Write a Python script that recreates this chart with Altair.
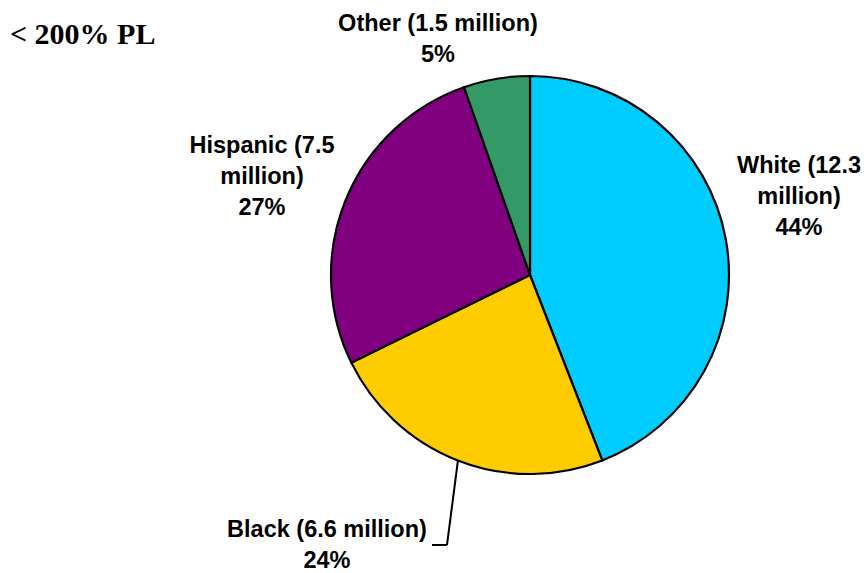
import altair as alt
import pandas as pd

# ---- data ----
groups = ["White", "Black", "Hispanic", "Other"]
millions = [12.3, 6.6, 7.5, 1.5]
colors = ["#00CCFF", "#FFCC00", "#800080", "#339966"]
title_text = "< 200% PL"

total = sum(millions)
pcts = [round(v / total * 100) for v in millions]

df = pd.DataFrame({"group": groups, "millions": millions, "idx": list(range(len(groups)))})

W, H = 866, 573
CX, CY, R = 530, 275, 199

pie = alt.Chart(df).mark_arc(radius=R, stroke="black", strokeWidth=2.2).encode(
    theta=alt.Theta("millions:Q", stack=True),
    color=alt.Color("group:N", scale=alt.Scale(domain=groups, range=colors), legend=None),
    order=alt.Order("idx:Q"),
    x=alt.value(CX),
    y=alt.value(CY),
)

LABEL_FONT = "Liberation Sans"
def label(lines, x, y):
    return alt.Chart(df).mark_text(
        text=lines, font=LABEL_FONT, fontSize=23.5, fontWeight="bold",
        align="center", baseline="alphabetic", lineHeight=31, color="black",
    ).encode(x=alt.value(x), y=alt.value(y)).transform_filter(alt.datum.idx == 0)

labels = [
    label([f"White ({millions[0]}", "million)", f"{pcts[0]}%"], 799, 173),
    label([f"Black ({millions[1]} million)", f"{pcts[1]}%"], 327, 537),
    label([f"Hispanic ({millions[2]}", "million)", f"{pcts[2]}%"], 262, 153),
    label([f"Other ({millions[3]} million)", f"{pcts[3]}%"], 438, 31),
]

leader1 = alt.Chart(df).mark_rule(color="black", strokeWidth=2).encode(
    x=alt.value(458), y=alt.value(460), x2=alt.value(447), y2=alt.value(545)
).transform_filter(alt.datum.idx == 0)
leader2 = alt.Chart(df).mark_rule(color="black", strokeWidth=2).encode(
    x=alt.value(447), y=alt.value(545), x2=alt.value(432), y2=alt.value(545)
).transform_filter(alt.datum.idx == 0)

title = alt.Chart(df).mark_text(
    text=title_text, font="Liberation Serif", fontSize=30, fontWeight="bold",
    align="left", baseline="alphabetic", color="black",
).encode(x=alt.value(10), y=alt.value(44)).transform_filter(alt.datum.idx == 0)

chart = alt.layer(pie, leader1, leader2, title, *labels).properties(
    width=W, height=H, padding=0, autosize=alt.AutoSizeParams(type="none"),
    background="white",
).configure_view(stroke=None)

chart.save("out.html", embed_options={"renderer": "svg", "actions": False})
